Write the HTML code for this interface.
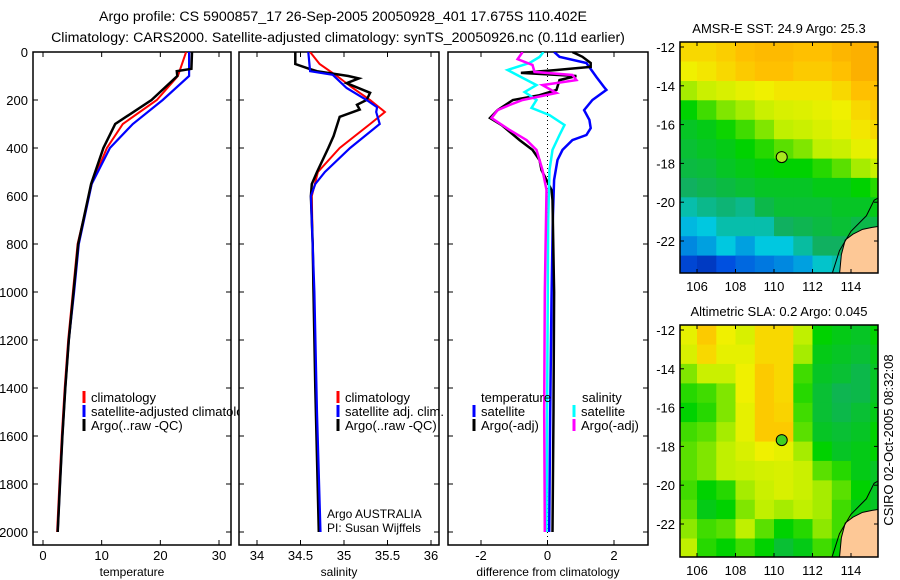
<!DOCTYPE html>
<html><head><meta charset="utf-8"><style>
html,body{margin:0;padding:0;background:#fff}
svg{display:block;font-family:"Liberation Sans",sans-serif}
</style></head><body>
<svg id="fig" width="900" height="580" viewBox="0 0 900 580" xmlns="http://www.w3.org/2000/svg">
<text x="343" y="21" font-size="14.2" text-anchor="middle">Argo profile: CS 5900857_17 26-Sep-2005 20050928_401 17.675S 110.402E</text>
<text x="338" y="42" font-size="14.2" text-anchor="middle">Climatology: CARS2000. Satellite-adjusted climatology: synTS_20050926.nc (0.11d earlier)</text>
<text transform="translate(893,440) rotate(-90)" font-size="13" text-anchor="middle">CSIRO 02-Oct-2005 08:32:08</text>
<g id="plots"></g>
</svg>
<script>
// ---------- profile data ----------
const tClimDepth=[0,100,200,300,400,550,800,1000,1200,1400,1600,1800,2000];
const tClim=[24.4,23.0,19.4,13.6,10.9,8.3,5.9,5.1,4.3,3.7,3.2,2.8,2.4];
const tSatDepth=[0,100,200,300,400,550,800,1000,1200,1400,1600,1800,2000];
const tSat=[24.9,24.9,20.4,15.3,11.4,8.3,6.1,5.3,4.4,3.8,3.3,2.9,2.5];
const tArgoDepth=[0,70,80,100,200,300,400,550,800,1000,1200,1400,1600,1800,2000];
const tArgo=[25.4,25.3,22.8,22.9,18.5,12.3,10.3,8.2,6.0,5.2,4.4,3.8,3.3,2.9,2.5];
const sClimDepth=[0,50,100,150,200,250,300,400,500,600,1000,1500,2000];
const sClim=[34.61,34.72,34.92,35.10,35.30,35.47,35.30,34.95,34.70,34.63,34.65,34.68,34.72];
const sSatDepth=[0,80,95,150,200,230,250,300,400,500,550,600,1000,1500,2000];
const sSat=[34.59,34.61,34.87,35.03,35.26,35.38,35.37,35.41,35.07,34.78,34.67,34.62,34.66,34.69,34.73];
const sArgoDepth=[0,50,70,80,100,110,130,170,200,220,240,270,350,400,500,550,600,800,1000,1400,2000];
const sArgo=[34.44,34.44,34.60,34.69,35.05,35.17,35.03,35.30,35.26,35.15,35.18,34.95,34.88,34.82,34.69,34.63,34.62,34.64,34.65,34.67,34.71];
const dTSatDepth=[0,20,46,104,146,158,200,242,283,317,346,367,408,450,533,700,1033,1500,2000];
const dTSat=[0.2,0.36,1.17,1.47,1.7,1.77,1.35,1.1,1.26,1.3,1.17,0.75,0.45,0.3,0.2,0.16,0.12,0.08,0.05];
const dTArgoDepth=[0,20,46,62,75,87,100,117,158,180,200,242,275,304,367,408,450,492,533,575,617,1000,1500,2000];
const dTArgo=[0.75,1.05,1.3,1.3,0.27,-0.8,0.87,0.36,0.27,-0.24,-1.04,-1.5,-1.73,-1.38,-0.84,-0.45,-0.24,-0.18,-0.03,0.12,0.15,0.2,0.18,0.15];
const dSArgoDepth=[0,30,54,83,96,117,138,171,200,221,242,275,325,367,408,492,575,1000,1500,2000];
const dSArgo=[-0.75,-0.9,-0.45,-0.39,0.75,0.87,-0.15,0.27,-0.75,-1.14,-1.5,-1.68,-1.14,-0.63,-0.33,-0.15,-0.03,-0.08,-0.1,-0.08];
const dSSatDepth=[0,21,46,75,108,138,167,200,233,263,304,346,408,492,700,1200,2000];
const dSSat=[-0.12,-0.24,-0.54,-1.2,-0.75,-0.33,-0.69,-0.33,-0.48,0.06,0.51,0.36,0.15,0.06,0.02,0,-0.03];
const depthTicks=[0,200,400,600,800,1000,1200,1400,1600,1800,2000];
const tempTicks=[0,10,20,30];
const salTicks=[34,34.5,35,35.5,36];
const diffTicks=[-2,0,2];
// ---------- map data ----------
const mapLons=[105.5,106.5,107.5,108.5,109.5,110.5,111.5,112.5,113.5,114.5,115.5];
const mapLats=[-12.25,-13.25,-14.25,-15.25,-16.25,-17.25,-18.25,-19.25,-20.25,-21.25,-22.25,-23.25];
const sstGrid=[
[0.85,0.85,0.87,0.9,0.92,0.92,0.9,0.9,0.93,0.95,0.95],
[0.8,0.82,0.85,0.88,0.9,0.9,0.88,0.88,0.9,0.95,0.95],
[0.68,0.72,0.75,0.78,0.8,0.82,0.82,0.82,0.85,0.9,0.9],
[0.55,0.6,0.65,0.68,0.72,0.75,0.76,0.78,0.8,0.85,0.88],
[0.5,0.52,0.56,0.6,0.65,0.7,0.72,0.75,0.78,0.82,0.85],
[0.48,0.5,0.52,0.55,0.58,0.62,0.65,0.7,0.72,0.78,0.8],
[0.46,0.47,0.5,0.52,0.54,0.55,0.55,0.58,0.62,0.68,0.72],
[0.42,0.44,0.46,0.48,0.5,0.5,0.5,0.52,0.52,0.55,0.58],
[0.35,0.38,0.4,0.38,0.45,0.48,0.48,0.48,0.5,0.5,0.52],
[0.28,0.3,0.35,0.35,0.35,0.42,0.44,0.46,0.48,0.45,0.45],
[0.22,0.25,0.3,0.25,0.3,0.3,0.36,0.42,0.42,0.35,0.3],
[0.12,0.08,0.15,0.18,0.2,0.22,0.25,0.32,0.35,0.3,0.3]];
const slaGrid=[
[0.78,0.88,0.8,0.75,0.85,0.85,0.7,0.55,0.52,0.5,0.55],
[0.75,0.85,0.78,0.78,0.85,0.85,0.68,0.52,0.5,0.48,0.52],
[0.65,0.72,0.72,0.8,0.88,0.85,0.6,0.5,0.48,0.45,0.5],
[0.58,0.6,0.65,0.8,0.88,0.85,0.58,0.48,0.44,0.45,0.5],
[0.55,0.58,0.65,0.78,0.88,0.86,0.6,0.48,0.45,0.48,0.52],
[0.6,0.62,0.68,0.78,0.88,0.88,0.62,0.5,0.48,0.5,0.55],
[0.62,0.65,0.7,0.75,0.8,0.78,0.68,0.55,0.5,0.52,0.55],
[0.62,0.65,0.7,0.72,0.74,0.75,0.72,0.62,0.58,0.52,0.5],
[0.6,0.55,0.58,0.68,0.72,0.75,0.72,0.68,0.62,0.55,0.5],
[0.62,0.52,0.55,0.65,0.7,0.68,0.7,0.68,0.6,0.52,0.5],
[0.66,0.6,0.62,0.7,0.62,0.55,0.58,0.66,0.6,0.5,0.5],
[0.7,0.58,0.55,0.6,0.55,0.48,0.52,0.6,0.55,0.5,0.5]];
const lonTicks=[106,108,110,112,114];
const latTicks=[-12,-14,-16,-18,-20,-22];
const argoLon=110.402, argoLat=-17.675;
const landLon=[113.4,113.5,113.7,114.1,114.6,115.1,115.75,115.75];
const landLat=[-23.75,-22.7,-21.95,-21.65,-21.4,-21.3,-21.2,-23.75];
const shelfLon=[113.0,113.4,114.0,114.8,115.2,115.75];
const shelfLat=[-23.75,-22.5,-21.5,-20.7,-19.9,-19.6];

const NS='http://www.w3.org/2000/svg';
const root=document.getElementById('plots');
function mk(tag,attrs,parent){const e=document.createElementNS(NS,tag);for(const k in attrs)e.setAttribute(k,attrs[k]);(parent||root).appendChild(e);return e;}
function lin(d0,d1,r0,r1){return v=>r0+(v-d0)*(r1-r0)/(d1-d0);}

const yDepth=lin(0,2000,52,532);
const PT={l:33,r:231},PS={l:239,r:439},PD={l:448,r:648};
const TOP=52,BOT=545;
const xT=lin(0,30,43,219), xS=lin(34,36,257,431), xD=lin(-2,2,481,614);

function panel(name){
  const g=mk('g',{});
  
  
  return g;
}
function frame(g,P,xf,ticks,label,showY){
  const r=mk('rect',{x:P.l,y:TOP,width:P.r-P.l,height:BOT-TOP,fill:'none',stroke:'#000','stroke-width':1.5},g);
  
  
  depthTicks.forEach(d=>{
    const y=yDepth(d);
    const t1=mk('line',{x1:P.l,x2:P.l+5,y1:y,y2:y,stroke:'#000'},g);
    
    
    const t2=mk('line',{x1:P.r-5,x2:P.r,y1:y,y2:y,stroke:'#000'},g);
    
    
    if(showY){const tx=mk('text',{x:P.l-5,y:y+5,'font-size':13,'text-anchor':'end'},g);tx.textContent=d;
      
      }
  });
  ticks.forEach(v=>{
    const x=xf(v);
    const a=mk('line',{x1:x,x2:x,y1:BOT-5,y2:BOT,stroke:'#000'},g);
    
    
    const b=mk('line',{x1:x,x2:x,y1:TOP,y2:TOP+5,stroke:'#000'},g);
    
    
    const tx=mk('text',{x:x,y:560,'font-size':13,'text-anchor':'middle'},g);tx.textContent=v;
    
    
  });
  const xl=mk('text',{x:(P.l+P.r)/2,y:576,'font-size':12,'text-anchor':'middle'},g);xl.textContent=label;
  
  
}
function series(g,name,xs,ds,xf,color,w){
  const pts=xs.map((v,i)=>xf(v).toFixed(1)+','+yDepth(ds[i]).toFixed(1)).join(' ');
  const p=mk('polyline',{points:pts,fill:'none',stroke:color,'stroke-width':w,'stroke-linejoin':'miter'},g);
  
  
}
function legend(g,x,y,color,text){
  const l=mk('line',{x1:x,x2:x,y1:y-11,y2:y+1,stroke:color,'stroke-width':3},g);
  
  
  const t=mk('text',{x:x+7,y:y,'font-size':13},g);t.textContent=text;
  
  
}
function clip(id,P){const c=mk('clipPath',{id:id});mk('rect',{x:P.l,y:TOP,width:P.r-P.l+8,height:BOT-TOP},c);}

clip('cT',PT);clip('cS',PS);clip('cD',PD);
const gT=panel('temperature-panel');frame(gT,PT,xT,tempTicks,'temperature',true);
const sT=mk('g',{'clip-path':'url(#cT)'},gT);
series(sT,'temp-climatology-line',tClim,tClimDepth,xT,'#f00',2);
series(sT,'temp-satellite-line',tSat,tSatDepth,xT,'#00f',2.2);
series(sT,'temp-argo-line',tArgo,tArgoDepth,xT,'#000',2.5);
legend(sT,84,402,'#f00','climatology');
legend(sT,84,416,'#00f','satellite-adjusted climatology');
legend(sT,84,430,'#000','Argo(..raw -QC)');

const gS=panel('salinity-panel');frame(gS,PS,xS,salTicks,'salinity',false);
const sS=mk('g',{'clip-path':'url(#cS)'},gS);
series(sS,'sal-climatology-line',sClim,sClimDepth,xS,'#f00',2);
series(sS,'sal-argo-line',sArgo,sArgoDepth,xS,'#000',2.5);
series(sS,'sal-satellite-line',sSat,sSatDepth,xS,'#00f',2.2);
legend(gS,338,402,'#f00','climatology');
legend(gS,338,416,'#00f','satellite adj. clim.');
legend(gS,338,430,'#000','Argo(..raw -QC)');
const a1=mk('text',{x:327,y:518,'font-size':12},gS);a1.textContent='Argo AUSTRALIA';


const a2=mk('text',{x:327,y:532,'font-size':12},gS);a2.textContent='PI: Susan Wijffels';



const gD=panel('difference-panel');frame(gD,PD,xD,diffTicks,'difference from climatology',false);
const sD=mk('g',{'clip-path':'url(#cD)'},gD);
const zl=mk('line',{x1:xD(0),x2:xD(0),y1:TOP,y2:BOT,stroke:'#000','stroke-dasharray':'1,3'},sD);


series(sD,'diff-temp-satellite-line',dTSat,dTSatDepth,xD,'#00f',2.5);
series(sD,'diff-temp-argo-line',dTArgo,dTArgoDepth,xD,'#000',2.5);
series(sD,'diff-sal-satellite-line',dSSat,dSSatDepth,xD,'#0ff',2.5);
series(sD,'diff-sal-argo-line',dSArgo,dSArgoDepth,xD,'#f0f',2.5);
const lt=mk('text',{x:481,y:402,'font-size':13},gD);lt.textContent='temperature';


const ls=mk('text',{x:582,y:402,'font-size':13},gD);ls.textContent='salinity';


legend(gD,474,416,'#00f','satellite');
legend(gD,474,430,'#000','Argo(-adj)');
legend(gD,574,416,'#0ff','satellite');
legend(gD,574,430,'#f0f','Argo(-adj)');

const stops=[[0,[0,32,160]],[0.15,[0,80,224]],[0.3,[0,200,224]],[0.42,[16,176,96]],[0.55,[0,210,0]],[0.7,[192,240,0]],[0.8,[240,240,0]],[0.9,[255,192,0]],[1,[248,160,0]]];
function cmap(v){for(let i=1;i<stops.length;i++){if(v<=stops[i][0]){const a=stops[i-1],b=stops[i],t=(v-a[0])/(b[0]-a[0]);const c=a[1].map((x,k)=>Math.round(x+(b[1][k]-x)*t));return 'rgb('+c.join(',')+')';}}return 'rgb(248,160,0)';}
function drawMap(name,grid,y0,y1,title,dotColor,id){
  const L=680,R=878;
  const xf=lin(106,114,697,851), yf=lin(-12,-22,y0+5,y0+5+194);
  const g=mk('g',{});
  
  
  const cp=mk('clipPath',{id:id});mk('rect',{x:L,y:y0,width:R-L,height:y1-y0},cp);
  const cg=mk('g',{'clip-path':'url(#'+id+')'},g);
  grid.forEach((row,i)=>row.forEach((v,j)=>{
    const x=xf(mapLons[j]-0.5), y=yf(mapLats[i]+0.5);
    const c=mk('rect',{x:x.toFixed(1),y:y.toFixed(1),width:(xf(mapLons[j]+0.5)-x+0.6).toFixed(1),height:(yf(mapLats[i]-0.5)-y+0.6).toFixed(1),fill:cmap(v)},cg);
    
    
  }));
  const land=mk('polygon',{points:landLon.map((v,i)=>xf(v)+','+yf(landLat[i])).join(' '),fill:'#fdc896',stroke:'#000','stroke-width':1},cg);
  
  
  const sh=mk('polyline',{points:shelfLon.map((v,i)=>xf(v)+','+yf(shelfLat[i])).join(' '),fill:'none',stroke:'#000','stroke-width':1},cg);
  
  
  const dot=mk('circle',{cx:xf(argoLon),cy:yf(argoLat),r:5.5,fill:dotColor,stroke:'#000','stroke-width':1},g);
  
  
  const fr=mk('rect',{x:L,y:y0,width:R-L,height:y1-y0,fill:'none',stroke:'#000','stroke-width':1.5},g);
  
  
  const t=mk('text',{x:779,y:y0-9,'font-size':13,'text-anchor':'middle'},g);t.textContent=title;
  
  
  lonTicks.forEach(v=>{const x=xf(v);
    const a=mk('line',{x1:x,x2:x,y1:y1-4,y2:y1,stroke:'#000'},g);
    
    
    const b=mk('line',{x1:x,x2:x,y1:y0,y2:y0+4,stroke:'#000'},g);
    
    
    const tx=mk('text',{x:x,y:y1+18,'font-size':13,'text-anchor':'middle'},g);tx.textContent=v;
    
    });
  latTicks.forEach(v=>{const y=yf(v);
    const a=mk('line',{x1:L,x2:L+4,y1:y,y2:y,stroke:'#000'},g);
    
    
    const b=mk('line',{x1:R-4,x2:R,y1:y,y2:y,stroke:'#000'},g);
    
    
    const tx=mk('text',{x:L-5,y:y+5,'font-size':13,'text-anchor':'end'},g);tx.textContent=v;
    
    });
}
drawMap('sst-map',sstGrid,42,273,'AMSR-E SST: 24.9 Argo: 25.3','#a8e820','mc1');
drawMap('sla-map',slaGrid,325,557,'Altimetric SLA: 0.2 Argo: 0.045','#40d020','mc2');
</script>
</body></html>
